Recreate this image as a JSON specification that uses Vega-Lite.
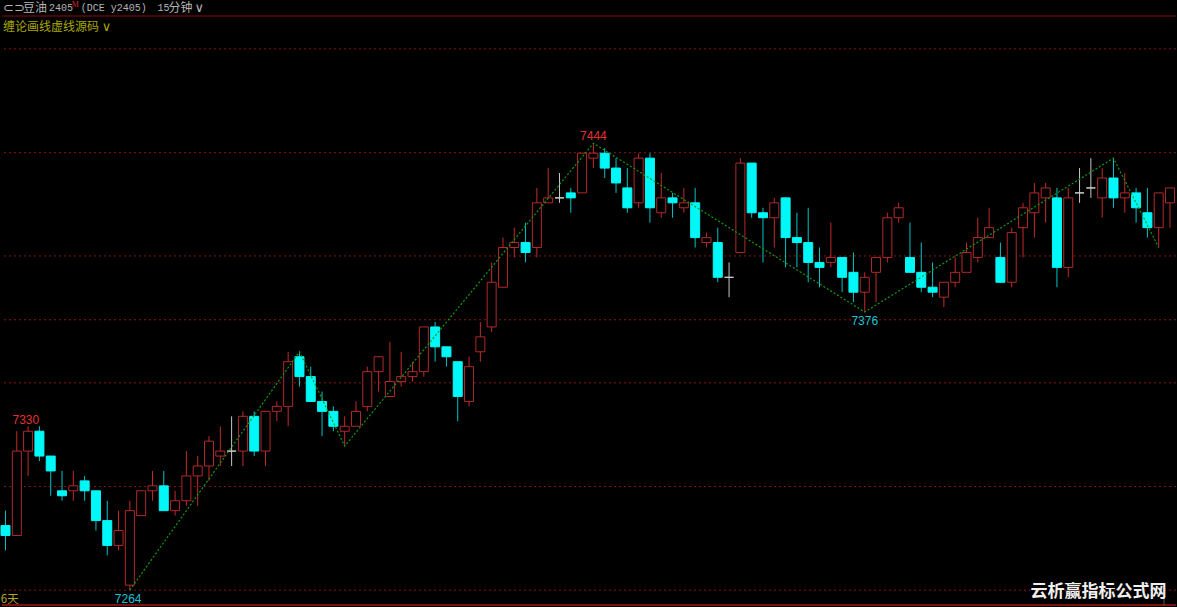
{"$schema":"https://vega.github.io/schema/vega-lite/v6.json","autosize":{"type":"fit","contains":"padding"},"width":1177,"height":607,"padding":0,"background":"#000000","config":{"view":{"stroke":null},"scale":{"continuousPadding":0}},
"resolve":{"scale":{"color":"independent","stroke":"independent","fill":"independent"}},
"datasets":{"candles":[
{"i":0,"h":7296,"o":7290,"c":7286,"l":7280,"d":"down"},{"i":1,"h":7328,"o":7286,"c":7320,"l":7286,"d":"up"},{"i":2,"h":7330,"o":7320,"c":7328,"l":7310,"d":"up"},{"i":3,"h":7330,"o":7328,"c":7318,"l":7316,"d":"down"},{"i":4,"h":7318,"o":7318,"c":7312,"l":7302,"d":"down"},{"i":5,"h":7312,"o":7304,"c":7302,"l":7300,"d":"down"},{"i":6,"h":7312,"o":7304,"c":7306,"l":7300,"d":"up"},{"i":7,"h":7310,"o":7308,"c":7304,"l":7300,"d":"down"},{"i":8,"h":7304,"o":7304,"c":7292,"l":7288,"d":"down"},{"i":9,"h":7300,"o":7292,"c":7282,"l":7278,"d":"down"},
{"i":10,"h":7296,"o":7282,"c":7288,"l":7280,"d":"up"},{"i":11,"h":7300,"o":7266,"c":7296,"l":7264,"d":"up"},{"i":12,"h":7304,"o":7294,"c":7304,"l":7294,"d":"up"},{"i":13,"h":7312,"o":7304,"c":7306,"l":7300,"d":"up"},{"i":14,"h":7312,"o":7306,"c":7296,"l":7296,"d":"down"},{"i":15,"h":7304,"o":7296,"c":7300,"l":7294,"d":"up"},{"i":16,"h":7320,"o":7300,"c":7310,"l":7298,"d":"up"},{"i":17,"h":7318,"o":7310,"c":7314,"l":7298,"d":"up"},{"i":18,"h":7326,"o":7314,"c":7324,"l":7308,"d":"up"},{"i":19,"h":7330,"o":7318,"c":7320,"l":7314,"d":"up"},
{"i":20,"h":7334,"o":7320,"c":7320,"l":7314,"d":"flat"},{"i":21,"h":7336,"o":7320,"c":7334,"l":7314,"d":"up"},{"i":22,"h":7336,"o":7334,"c":7320,"l":7318,"d":"down"},{"i":23,"h":7336,"o":7320,"c":7336,"l":7314,"d":"up"},{"i":24,"h":7340,"o":7336,"c":7338,"l":7332,"d":"up"},{"i":25,"h":7360,"o":7338,"c":7356,"l":7330,"d":"up"},{"i":26,"h":7360,"o":7358,"c":7350,"l":7346,"d":"down"},{"i":27,"h":7354,"o":7350,"c":7340,"l":7340,"d":"down"},{"i":28,"h":7344,"o":7340,"c":7336,"l":7326,"d":"down"},{"i":29,"h":7338,"o":7336,"c":7330,"l":7328,"d":"down"},
{"i":30,"h":7334,"o":7328,"c":7330,"l":7322,"d":"up"},{"i":31,"h":7340,"o":7330,"c":7336,"l":7330,"d":"up"},{"i":32,"h":7354,"o":7338,"c":7352,"l":7336,"d":"up"},{"i":33,"h":7358,"o":7352,"c":7358,"l":7344,"d":"up"},{"i":34,"h":7364,"o":7342,"c":7348,"l":7342,"d":"up"},{"i":35,"h":7360,"o":7348,"c":7350,"l":7346,"d":"up"},{"i":36,"h":7356,"o":7350,"c":7352,"l":7348,"d":"up"},{"i":37,"h":7370,"o":7352,"c":7370,"l":7350,"d":"up"},{"i":38,"h":7372,"o":7370,"c":7362,"l":7356,"d":"down"},{"i":39,"h":7362,"o":7362,"c":7358,"l":7354,"d":"down"},
{"i":40,"h":7356,"o":7356,"c":7342,"l":7332,"d":"down"},{"i":41,"h":7358,"o":7340,"c":7354,"l":7338,"d":"up"},{"i":42,"h":7372,"o":7360,"c":7366,"l":7356,"d":"up"},{"i":43,"h":7396,"o":7370,"c":7388,"l":7368,"d":"up"},{"i":44,"h":7406,"o":7386,"c":7402,"l":7386,"d":"up"},{"i":45,"h":7410,"o":7402,"c":7404,"l":7398,"d":"up"},{"i":46,"h":7412,"o":7404,"c":7400,"l":7396,"d":"down"},{"i":47,"h":7426,"o":7402,"c":7420,"l":7398,"d":"up"},{"i":48,"h":7434,"o":7420,"c":7422,"l":7420,"d":"up"},{"i":49,"h":7432,"o":7422,"c":7422,"l":7420,"d":"flat"},
{"i":50,"h":7426,"o":7424,"c":7422,"l":7416,"d":"down"},{"i":51,"h":7440,"o":7424,"c":7440,"l":7424,"d":"up"},{"i":52,"h":7444,"o":7438,"c":7440,"l":7434,"d":"up"},{"i":53,"h":7442,"o":7440,"c":7434,"l":7430,"d":"down"},{"i":54,"h":7438,"o":7434,"c":7428,"l":7424,"d":"down"},{"i":55,"h":7434,"o":7426,"c":7418,"l":7416,"d":"down"},{"i":56,"h":7440,"o":7420,"c":7438,"l":7418,"d":"up"},{"i":57,"h":7440,"o":7438,"c":7418,"l":7412,"d":"down"},{"i":58,"h":7432,"o":7416,"c":7422,"l":7414,"d":"up"},{"i":59,"h":7424,"o":7422,"c":7420,"l":7414,"d":"down"},
{"i":60,"h":7426,"o":7418,"c":7420,"l":7416,"d":"up"},{"i":61,"h":7426,"o":7420,"c":7406,"l":7402,"d":"down"},{"i":62,"h":7408,"o":7404,"c":7406,"l":7402,"d":"up"},{"i":63,"h":7410,"o":7404,"c":7390,"l":7388,"d":"down"},{"i":64,"h":7396,"o":7390,"c":7390,"l":7382,"d":"flat"},{"i":65,"h":7438,"o":7400,"c":7436,"l":7400,"d":"up"},{"i":66,"h":7436,"o":7436,"c":7416,"l":7414,"d":"down"},{"i":67,"h":7418,"o":7416,"c":7414,"l":7396,"d":"down"},{"i":68,"h":7422,"o":7414,"c":7420,"l":7402,"d":"up"},{"i":69,"h":7422,"o":7422,"c":7406,"l":7394,"d":"down"},
{"i":70,"h":7416,"o":7406,"c":7404,"l":7394,"d":"down"},{"i":71,"h":7418,"o":7404,"c":7396,"l":7388,"d":"down"},{"i":72,"h":7402,"o":7396,"c":7394,"l":7386,"d":"down"},{"i":73,"h":7412,"o":7396,"c":7398,"l":7394,"d":"up"},{"i":74,"h":7398,"o":7398,"c":7390,"l":7384,"d":"down"},{"i":75,"h":7400,"o":7392,"c":7384,"l":7380,"d":"down"},{"i":76,"h":7392,"o":7384,"c":7390,"l":7376,"d":"up"},{"i":77,"h":7398,"o":7392,"c":7398,"l":7380,"d":"up"},{"i":78,"h":7416,"o":7398,"c":7414,"l":7396,"d":"up"},{"i":79,"h":7420,"o":7414,"c":7418,"l":7412,"d":"up"},
{"i":80,"h":7412,"o":7398,"c":7392,"l":7392,"d":"down"},{"i":81,"h":7404,"o":7392,"c":7386,"l":7384,"d":"down"},{"i":82,"h":7396,"o":7386,"c":7384,"l":7382,"d":"down"},{"i":83,"h":7388,"o":7382,"c":7388,"l":7378,"d":"up"},{"i":84,"h":7398,"o":7388,"c":7392,"l":7386,"d":"up"},{"i":85,"h":7404,"o":7392,"c":7400,"l":7392,"d":"up"},{"i":86,"h":7414,"o":7398,"c":7406,"l":7396,"d":"up"},{"i":87,"h":7418,"o":7406,"c":7410,"l":7406,"d":"up"},{"i":88,"h":7404,"o":7398,"c":7388,"l":7388,"d":"down"},{"i":89,"h":7410,"o":7388,"c":7408,"l":7386,"d":"up"},
{"i":90,"h":7420,"o":7410,"c":7418,"l":7398,"d":"up"},{"i":91,"h":7428,"o":7416,"c":7424,"l":7406,"d":"up"},{"i":92,"h":7428,"o":7422,"c":7426,"l":7412,"d":"up"},{"i":93,"h":7426,"o":7422,"c":7394,"l":7386,"d":"down"},{"i":94,"h":7426,"o":7394,"c":7422,"l":7390,"d":"up"},{"i":95,"h":7434,"o":7424,"c":7424,"l":7420,"d":"flat"},{"i":96,"h":7438,"o":7426,"c":7426,"l":7422,"d":"flat"},{"i":97,"h":7434,"o":7422,"c":7430,"l":7414,"d":"up"},{"i":98,"h":7438,"o":7430,"c":7422,"l":7418,"d":"down"},{"i":99,"h":7432,"o":7422,"c":7424,"l":7416,"d":"up"},
{"i":100,"h":7426,"o":7424,"c":7418,"l":7412,"d":"down"},{"i":101,"h":7426,"o":7416,"c":7410,"l":7406,"d":"down"},{"i":102,"h":7424,"o":7410,"c":7424,"l":7402,"d":"up"},{"i":103,"h":7426,"o":7420,"c":7426,"l":7410,"d":"up"}],
"zigzag":[{"i":11,"p":7264},{"i":26,"p":7360},{"i":30,"p":7322},{"i":52,"p":7444},{"i":76,"p":7376},{"i":98,"p":7438},{"i":102,"p":7402}],
"grid":[{"p":7264},{"p":7305.7},{"p":7347.5},{"p":7372.9},{"p":7398.6},{"p":7440.2},{"p":7482}],
"labels":[{"i":1.8,"p":7332.5,"t":"7330","k":"high"},{"i":10.85,"p":7260.6,"t":"7264","k":"low"},{"i":52,"p":7447,"t":"7444","k":"high"},{"i":76,"p":7372.6,"t":"7376","k":"low"}],
"headerCjk":[{"i":1.55,"p":7498.4,"t":"豆油","k":"title"},{"i":14.41,"p":7498.4,"t":"分钟","k":"title"},{"i":-0.22,"p":7490.7,"t":"缠论画线虚线源码","k":"indicator"}],
"headerLatin":[{"i":3.84,"p":7498.4,"t":"2405"},{"i":6.66,"p":7498.4,"t":"(DCE y2405)"},{"i":13.45,"p":7498.4,"t":"15"}],
"chevrons":[{"i":16.72,"p":7498.4,"t":"∨","k":"title"},{"i":8.51,"p":7490.7,"t":"∨","k":"indicator"},{"i":-0.22,"p":7498.4,"t":"⊂⊃","k":"title"}],
"small":[{"i":5.87,"p":7499.5,"t":"M"}],
"days":[{"i":-0.42,"p":7260.2,"t":"6天"}],
"mark":[{"i":90.65,"p":7263.3,"t":"云析赢指标公式网"}],
"stub":[{"i":102.47,"p":7261.5,"p2":7257.6}],
"frame":[{"p":7495.3,"k":"top"},{"p":7258,"k":"bottom"}]},
"layer":[
{"data":{"name":"grid"},"mark":{"type":"rule","strokeWidth":1,"strokeDash":[2,3],"color":"#8a1414"},"encoding":{"y":{"field":"p","type":"quantitative","scale":{"domain":[7257.6,7501.7],"nice":false,"zero":false},"axis":null}}},
{"data":{"name":"frame"},"mark":{"type":"rule","strokeWidth":1.5},"encoding":{"y":{"field":"p","type":"quantitative","scale":{"domain":[7257.6,7501.7],"nice":false,"zero":false},"axis":null},"color":{"field":"k","type":"nominal","legend":null,"scale":{"domain":["top","bottom"],"range":["#5e0606","#a81414"]}}}},
{"data":{"name":"candles"},"mark":{"type":"rule","strokeWidth":1},"encoding":{"x":{"field":"i","type":"quantitative","scale":{"domain":[-0.309,103.53],"nice":false,"zero":false,"padding":0},"axis":null},"y":{"field":"h","type":"quantitative","scale":{"domain":[7257.6,7501.7],"nice":false,"zero":false},"axis":null},"y2":{"field":"l"},"stroke":{"field":"d","type":"nominal","legend":null,"scale":{"domain":["up","down","flat"],"range":["#c42a2a","#00c4c4","#c8c8c8"]}}}},
{"data":{"name":"candles"},"mark":{"type":"bar","size":9,"strokeWidth":1,"orient":"vertical"},"encoding":{"x":{"field":"i","type":"quantitative","scale":{"domain":[-0.309,103.53],"nice":false,"zero":false,"padding":0},"axis":null},"y":{"field":"o","type":"quantitative","scale":{"domain":[7257.6,7501.7],"nice":false,"zero":false},"axis":null},"y2":{"field":"c"},"fill":{"field":"d","type":"nominal","legend":null,"scale":{"domain":["up","down","flat"],"range":["#000000","#00f8f8","#000000"]}},"stroke":{"field":"d","type":"nominal","legend":null,"scale":{"domain":["up","down","flat"],"range":["#b02a2a","#00f8f8","#d0d0d0"]}}}},
{"data":{"name":"zigzag"},"mark":{"type":"line","strokeWidth":1.2,"strokeDash":[2,2],"color":"#109a10"},"encoding":{"x":{"field":"i","type":"quantitative","scale":{"domain":[-0.309,103.53],"nice":false,"zero":false,"padding":0},"axis":null},"y":{"field":"p","type":"quantitative","scale":{"domain":[7257.6,7501.7],"nice":false,"zero":false},"axis":null}}},
{"data":{"name":"labels"},"mark":{"type":"text","font":"Liberation Sans","fontSize":12,"align":"center","baseline":"middle"},"encoding":{"x":{"field":"i","type":"quantitative","scale":{"domain":[-0.309,103.53],"nice":false,"zero":false,"padding":0},"axis":null},"y":{"field":"p","type":"quantitative","scale":{"domain":[7257.6,7501.7],"nice":false,"zero":false},"axis":null},"text":{"field":"t"},"color":{"field":"k","type":"nominal","legend":null,"scale":{"domain":["high","low"],"range":["#e03232","#1cc4d4"]}}}},
{"data":{"name":"headerCjk"},"mark":{"type":"text","font":"Noto Sans CJK SC","fontSize":12,"align":"left","baseline":"middle"},"encoding":{"x":{"field":"i","type":"quantitative","scale":{"domain":[-0.309,103.53],"nice":false,"zero":false,"padding":0},"axis":null},"y":{"field":"p","type":"quantitative","scale":{"domain":[7257.6,7501.7],"nice":false,"zero":false},"axis":null},"text":{"field":"t"},"color":{"field":"k","type":"nominal","legend":null,"scale":{"domain":["title","indicator"],"range":["#b4b4b4","#a8a800"]}}}},
{"data":{"name":"headerLatin"},"mark":{"type":"text","font":"Liberation Mono","fontSize":10,"align":"left","baseline":"middle","color":"#b4b4b4"},"encoding":{"x":{"field":"i","type":"quantitative","scale":{"domain":[-0.309,103.53],"nice":false,"zero":false,"padding":0},"axis":null},"y":{"field":"p","type":"quantitative","scale":{"domain":[7257.6,7501.7],"nice":false,"zero":false},"axis":null},"text":{"field":"t"}}},
{"data":{"name":"chevrons"},"mark":{"type":"text","font":"DejaVu Sans","fontSize":13,"align":"left","baseline":"middle"},"encoding":{"x":{"field":"i","type":"quantitative","scale":{"domain":[-0.309,103.53],"nice":false,"zero":false,"padding":0},"axis":null},"y":{"field":"p","type":"quantitative","scale":{"domain":[7257.6,7501.7],"nice":false,"zero":false},"axis":null},"text":{"field":"t"},"color":{"field":"k","type":"nominal","legend":null,"scale":{"domain":["title","indicator"],"range":["#b4b4b4","#a8a800"]}}}},
{"data":{"name":"small"},"mark":{"type":"text","font":"Liberation Serif","fontSize":8,"align":"left","baseline":"middle","color":"#d02828"},"encoding":{"x":{"field":"i","type":"quantitative","scale":{"domain":[-0.309,103.53],"nice":false,"zero":false,"padding":0},"axis":null},"y":{"field":"p","type":"quantitative","scale":{"domain":[7257.6,7501.7],"nice":false,"zero":false},"axis":null},"text":{"field":"t"}}},
{"data":{"name":"days"},"mark":{"type":"text","font":"Noto Sans CJK SC","fontSize":11.5,"align":"left","baseline":"middle","color":"#b4a428"},"encoding":{"x":{"field":"i","type":"quantitative","scale":{"domain":[-0.309,103.53],"nice":false,"zero":false,"padding":0},"axis":null},"y":{"field":"p","type":"quantitative","scale":{"domain":[7257.6,7501.7],"nice":false,"zero":false},"axis":null},"text":{"field":"t"}}},
{"data":{"name":"stub"},"mark":{"type":"rule","strokeWidth":1,"color":"#555555"},"encoding":{"x":{"field":"i","type":"quantitative","scale":{"domain":[-0.309,103.53],"nice":false,"zero":false,"padding":0},"axis":null},"y":{"field":"p","type":"quantitative","scale":{"domain":[7257.6,7501.7],"nice":false,"zero":false},"axis":null},"y2":{"field":"p2"}}},
{"data":{"name":"mark"},"mark":{"type":"text","font":"Noto Sans CJK SC","fontSize":17,"fontWeight":"bold","align":"left","baseline":"middle","color":"#f0f0f0"},"encoding":{"x":{"field":"i","type":"quantitative","scale":{"domain":[-0.309,103.53],"nice":false,"zero":false,"padding":0},"axis":null},"y":{"field":"p","type":"quantitative","scale":{"domain":[7257.6,7501.7],"nice":false,"zero":false},"axis":null},"text":{"field":"t"}}}
]}
